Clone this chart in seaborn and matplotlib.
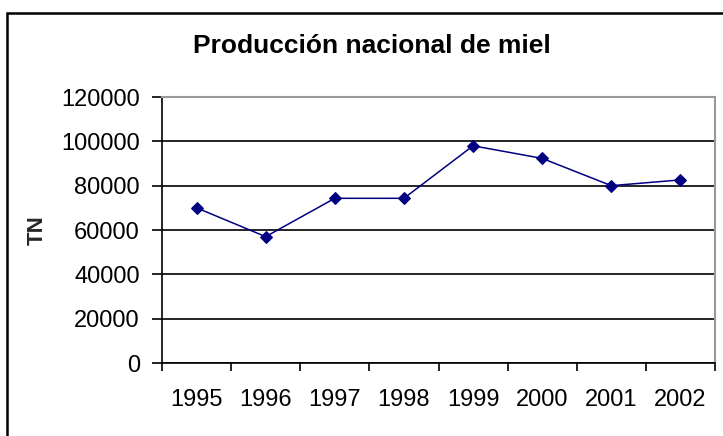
import numpy as np
import pandas as pd
import seaborn as sns
import matplotlib.pyplot as plt
from matplotlib.patches import Rectangle

# datos
years = ['1995', '1996', '1997', '1998', '1999', '2000', '2001', '2002']
tn = [70000, 57000, 74300, 74300, 98000, 92300, 80000, 82600]

sns.set_style('white')
plt.rcParams['font.family'] = ['Liberation Sans', 'DejaVu Sans']
plt.rcParams['text.color'] = 'black'
plt.rcParams['xtick.color'] = 'black'
plt.rcParams['ytick.color'] = 'black'

df = pd.DataFrame({'year': years, 'tn': tn})

fig = plt.figure(figsize=(7.23, 4.36), dpi=100)
ax = fig.add_axes([162/723, 1 - 363/436, (715 - 162)/723, (363 - 97)/436])

sns.lineplot(data=df, x='year', y='tn', ax=ax, color='#000080', lw=1.1,
             marker='D', markersize=6.5, markeredgecolor='#000080')

ax.set_ylim(0, 120000)
ax.set_yticks(np.arange(0, 120001, 20000))
ax.set_xlim(-0.5, len(years) - 0.5)
ax.set_xticks(np.arange(len(years)))
ax.set_xticklabels(years)
ax.set_xticks(np.arange(len(years) + 1) - 0.5, minor=True)
ax.tick_params(axis='x', which='major', bottom=False, length=0, pad=19, labelsize=17)
ax.tick_params(axis='x', which='minor', bottom=True, length=6, width=1.2, direction='out')
ax.tick_params(axis='y', left=True, length=7, width=1.2, direction='out', labelsize=17, pad=9)

ax.grid(axis='y', color='black', lw=1.2)
ax.set_axisbelow(True)
for s in ['left', 'bottom']:
    ax.spines[s].set_color('black')
    ax.spines[s].set_linewidth(1.2)
for s in ['top', 'right']:
    ax.spines[s].set_color('#999999')
    ax.spines[s].set_linewidth(1.5)

ax.set_xlabel('')
ax.set_ylabel('TN', fontsize=16, fontweight='bold')
ax.yaxis.set_label_coords((48 - 162) / (715 - 162), 0.5)

fig.text(372/723, 1 - 46/436, 'Producción nacional de miel', ha='center', va='center',
         fontsize=19, fontweight='bold')

# marco exterior del grafico
fig.patches.append(Rectangle((7/723, -0.1), 1.0, 1 - 13/436 + 0.1, transform=fig.transFigure,
                             fill=False, edgecolor='black', lw=1.8))

fig.savefig('out.png', dpi=100)
